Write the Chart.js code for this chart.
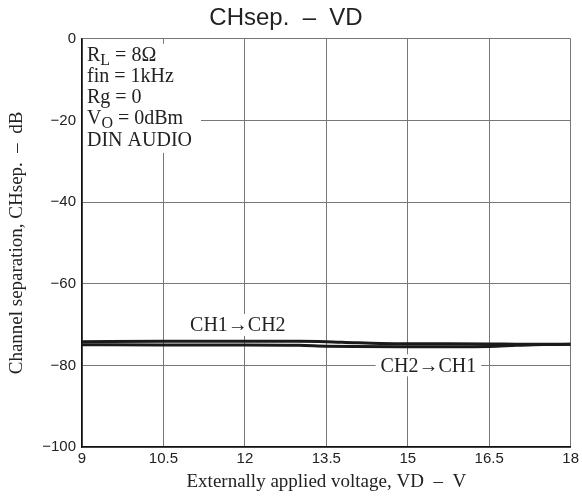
<!DOCTYPE html>
<html>
<head>
<meta charset="utf-8">
<script src="https://cdn.jsdelivr.net/npm/chart.js@4.4.0/dist/chart.umd.min.js"></script>
<style>
  html, body { margin: 0; padding: 0; background: #fff; }
  #wrap { width: 582px; height: 502px; }
</style>
</head>
<body>
<div id="wrap"><canvas id="myChart" width="582" height="502"></canvas></div>
<script>
// supply voltage VD (V) and channel separation (dB)
var ch12X = [9, 10.5, 12, 13, 13.5, 14, 14.5, 15, 16.5, 17, 18];
var ch12Y = [-74.2, -74.1, -74.1, -74.1, -74.2, -74.45, -74.65, -74.7, -74.75, -74.8, -74.85];
var ch21X = [9, 10.5, 12, 13, 13.5, 14, 15, 16.5, 17, 17.5, 18];
var ch21Y = [-74.95, -75.0, -75.0, -75.1, -75.3, -75.4, -75.45, -75.35, -75.1, -74.9, -74.85];

var xTicks = [9, 10.5, 12, 13.5, 15, 16.5, 18];
var yTicks = [0, -20, -40, -60, -80, -100];

// curve labels: [text, x value, y value]
var curveLabels = [
  ['CH1\u2192CH2', 11.87, -70.1],
  ['CH2\u2192CH1', 15.38, -80]
];
var conditions = ['R|L| = 8\u03A9', 'fin = 1kHz', 'Rg = 0', 'V|O| = 0dBm', 'DIN AUDIO'];

function pts(xs, ys) {
  return xs.map(function (x, i) { return { x: x, y: ys[i] }; });
}

var serif = "'Liberation Serif', 'Times New Roman', serif";
var sans = "'Liberation Sans', Arial, sans-serif";

var notes = {
  id: 'notes',
  beforeDatasetsDraw: function (chart) {
    var c = chart.ctx, a = chart.chartArea;
    var xs = chart.scales.x, ys = chart.scales.y;
    c.save();
    // condition box
    c.fillStyle = '#fff';
    c.fillRect(a.left + 1, a.top + 5, 118, 109);
    c.fillStyle = '#222';
    c.textBaseline = 'alphabetic';
    c.textAlign = 'left';
    conditions.forEach(function (line, i) {
      var y = a.top + 22 + i * 21.2;
      var parts = line.split('|');
      var x = a.left + 5;
      parts.forEach(function (p, j) {
        if (j === 1) {
          c.font = '16px ' + serif;
          c.fillText(p, x, y + 4);
        } else {
          c.font = '20px ' + serif;
          c.fillText(p, x, y);
        }
        x += c.measureText(p).width;
      });
    });
    // curve labels
    c.font = '20px ' + serif;
    c.textAlign = 'center';
    c.textBaseline = 'middle';
    curveLabels.forEach(function (l) {
      var px = xs.getPixelForValue(l[1]);
      var py = ys.getPixelForValue(l[2]);
      var w = c.measureText(l[0]).width;
      c.fillStyle = '#fff';
      c.fillRect(px - w / 2 - 5, py - 11, w + 10, 22);
      c.fillStyle = '#222';
      c.fillText(l[0], px, py + 1);
    });
    c.restore();
  }
};

var ctx = document.getElementById('myChart').getContext('2d');
var chart = new Chart(ctx, {
  type: 'line',
  data: {
    datasets: [{
      label: 'CH1\u2192CH2',
      data: pts(ch12X, ch12Y),
      borderColor: '#1a1a1a',
      borderWidth: 3,
      pointRadius: 0,
      cubicInterpolationMode: 'monotone',
      fill: false
    }, {
      label: 'CH2\u2192CH1',
      data: pts(ch21X, ch21Y),
      borderColor: '#1a1a1a',
      borderWidth: 3,
      pointRadius: 0,
      cubicInterpolationMode: 'monotone',
      fill: false
    }]
  },
  options: {
    responsive: false,
    animation: false,
    events: [],
    layout: { padding: { left: 0, right: 10, top: 0, bottom: 0 } },
    plugins: {
      legend: { display: false },
      tooltip: { enabled: false },
      title: {
        display: true,
        text: 'CHsep.  \u2013  VD',
        color: '#222',
        font: { family: sans, size: 24, weight: 'normal', lineHeight: 1.2 },
        padding: { top: 4, bottom: 6 }
      }
    },
    scales: {
      x: {
        type: 'linear',
        min: 9,
        max: 18,
        afterBuildTicks: function (s) { s.ticks = xTicks.map(function (v) { return { value: v }; }); },
        afterFit: function (s) { s.height = 55; },
        ticks: {
          color: '#222',
          font: { family: sans, size: 15 },
          padding: 3,
          maxRotation: 0,
          callback: function (v) { return String(v); }
        },
        grid: { color: '#777', lineWidth: 1, drawTicks: false },
        border: { color: '#111', width: 1.5 },
        title: {
          display: true,
          text: 'Externally applied voltage, VD  \u2013  V',
          color: '#222',
          font: { family: serif, size: 19 },
          padding: { top: 0, bottom: 9 }
        }
      },
      y: {
        type: 'linear',
        min: -100,
        max: 0,
        afterBuildTicks: function (s) { s.ticks = yTicks.map(function (v) { return { value: v }; }); },
        afterFit: function (s) { s.width = 82; },
        ticks: {
          color: '#222',
          font: { family: sans, size: 15 },
          padding: 6,
          callback: function (v) { return v < 0 ? '\u2212' + Math.abs(v) : String(v); }
        },
        grid: { color: '#777', lineWidth: 1, drawTicks: false },
        border: { color: '#111', width: 1.5 },
        title: {
          display: true,
          text: 'Channel separation, CHsep.  \u2013  dB',
          color: '#222',
          font: { family: serif, size: 19 },
          padding: { top: 6, bottom: 0 }
        }
      }
    }
  },
  plugins: [notes]
});
</script>
</body>
</html>
